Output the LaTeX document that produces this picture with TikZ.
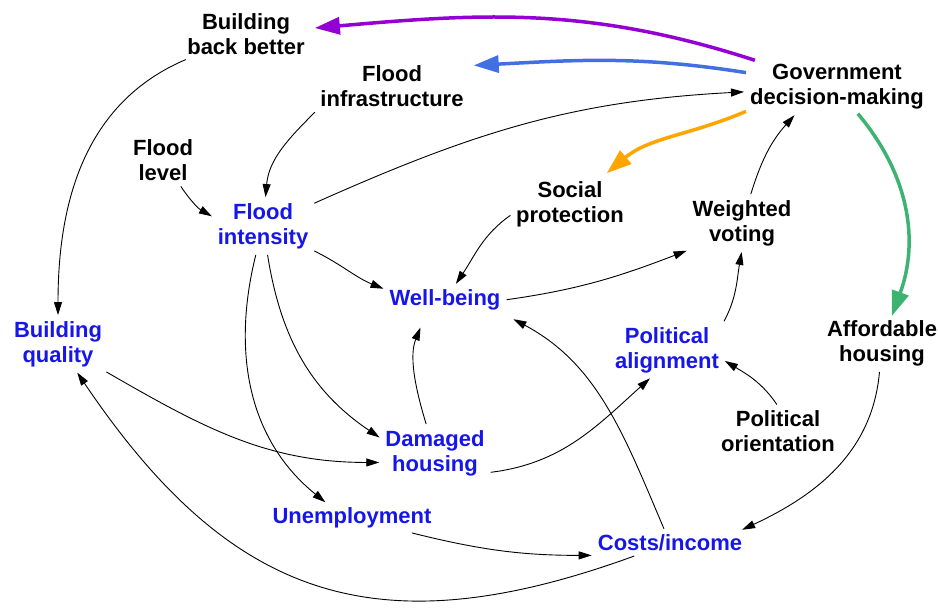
\documentclass[tikz,border=0pt]{standalone}
\usepackage{fontspec}
\setmainfont{Liberation Sans}
\usetikzlibrary{arrows.meta}
\definecolor{varblue}{RGB}{22,22,232}
\definecolor{purp}{RGB}{148,0,211}
\definecolor{roy}{RGB}{66,112,226}
\definecolor{orng}{RGB}{255,165,0}
\definecolor{grn}{RGB}{60,179,113}

\begin{document}
\begin{tikzpicture}[x=1pt,y=1pt,
    var/.style={font=\fontsize{22}{25}\selectfont\bfseries, align=center, inner sep=4pt},
    core/.style={var, text=varblue},
    link/.style={-{Triangle[length=13pt,width=8pt]}, line width=0.9pt, shorten >=2pt, shorten <=2pt},
    policy/.style={-{Triangle[length=25pt,width=17pt]}, line width=3.5pt, shorten >=6pt}]
  \useasboundingbox (0,0) rectangle (938,-610);

  % variables
  \node[var]  (bbb)    at (246,-34)  {Building\\back better};
  \node[var]  (infra)  at (392,-86)  {Flood\\infrastructure};
  \node[var]  (level)  at (163,-160) {Flood\\level};
  \node[core] (fint)   at (263,-226) {Flood\\intensity};
  \node[var]  (gov)    at (837,-87)  {Government\\decision-making};
  \node[var]  (social) at (570,-204) {Social\\protection};
  \node[var]  (voting) at (742,-223) {Weighted\\voting};
  \node[core] (wb)     at (445,-300) {Well-being};
  \node[core] (bq)     at (58,-344)  {Building\\quality};
  \node[core] (align)  at (667,-350) {Political\\alignment};
  \node[var]  (afford) at (882,-343) {Affordable\\housing};
  \node[var]  (orient) at (778,-431) {Political\\orientation};
  \node[core] (dh)     at (435,-453) {Damaged\\housing};
  \node[core] (unemp)  at (352,-518) {Unemployment};
  \node[core] (costs)  at (670,-543) {Costs/income};

  % policy levers
  \draw[policy,purp] (gov) to[out=162,in=5] (bbb);
  \draw[policy,roy]  (gov) to[out=171,in=3] (infra.15);
  \draw[policy,orng] (gov.195) to[out=203,in=40] (social);
  \draw[policy,grn,shorten >=0pt] (gov.308) to[out=310,in=70] (afford.70);

  % causal links
  \draw[link] (fint) to[out=24,in=183] (gov);
  \draw[link] (infra.south west) to[out=225,in=85] (fint);
  \draw[link] (level) to[out=304,in=150] (fint.170);
  \draw[link] (bbb) to[out=203,in=90] (bq);
  \draw[link] (fint) to[out=334,in=158] (wb.170);
  \draw[link] (social.190) to[out=215,in=56] (wb);
  \draw[link] (wb.east) to[out=8,in=201] (voting.south west);
  \draw[link] (voting) to[out=73,in=228] (gov.213);
  \draw[link] (align.north east) to[out=62,in=260] (voting.south);
  \draw[link] (orient.north) to[out=124,in=329] (align.350);
  \draw[link, shorten >=14pt] (dh) to[out=107,in=248] (wb.217);
  \draw[link] (dh.340) to[out=7,in=222] (align.240);
  \draw[link] (fint) to[out=279,in=146] (dh.165);
  \draw[link] (fint) to[out=256,in=141] (unemp.150);
  \draw[link] (bq) to[out=330,in=180] (dh.190);
  \draw[link, shorten >=10pt] (costs) to[out=113,in=332] (wb.south east);
  \draw[link] (costs) to[out=200,in=304,looseness=1.2] (bq);
  \draw[link] (unemp) to[out=346,in=180] (costs.south west);
  \draw[link] (afford) to[out=265,in=25] (costs.10);
\end{tikzpicture}
\end{document}
